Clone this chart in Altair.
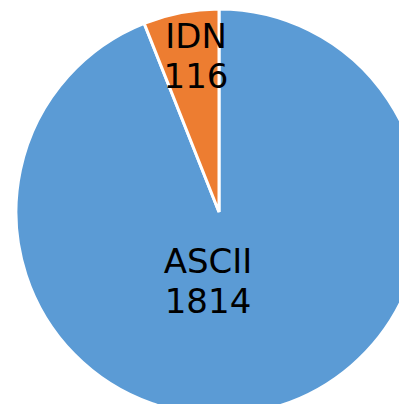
import altair as alt
import pandas as pd

categories = ["ASCII", "IDN"]
values = [1814, 116]
colors = ["#5B9BD5", "#ED7D31"]

df = pd.DataFrame({
    "category": categories,
    "value": values,
    "order": list(range(len(categories))),
})
df["label"] = [f"{c}\n{v}" for c, v in zip(categories, values)]

base = alt.Chart(df)

pie = base.mark_arc(radius=203, stroke="white", strokeWidth=3).encode(
    theta=alt.Theta("value:Q", stack=True),
    order=alt.Order("order:Q"),
    color=alt.Color("category:N", scale=alt.Scale(domain=categories, range=colors), legend=None),
    x=alt.value(211),
    y=alt.value(204),
)

lab_ascii = base.transform_filter(alt.datum.category == "ASCII").mark_text(
    font="DejaVu Sans", fontSize=34, lineBreak="\n", lineHeight=40,
    align="center", baseline="alphabetic", color="black",
).encode(text="label:N", x=alt.value(200), y=alt.value(265))

lab_idn = base.transform_filter(alt.datum.category == "IDN").mark_text(
    font="DejaVu Sans", fontSize=34, lineBreak="\n", lineHeight=40,
    align="center", baseline="alphabetic", color="black",
).encode(text="label:N", x=alt.value(188), y=alt.value(40))

chart = alt.layer(pie, lab_ascii, lab_idn).properties(
    width=391, height=396, padding=0, autosize=alt.AutoSizeParams(type="none"),
).configure_view(stroke=None)

chart.save("out.html", embed_options={"renderer": "svg", "actions": False})
